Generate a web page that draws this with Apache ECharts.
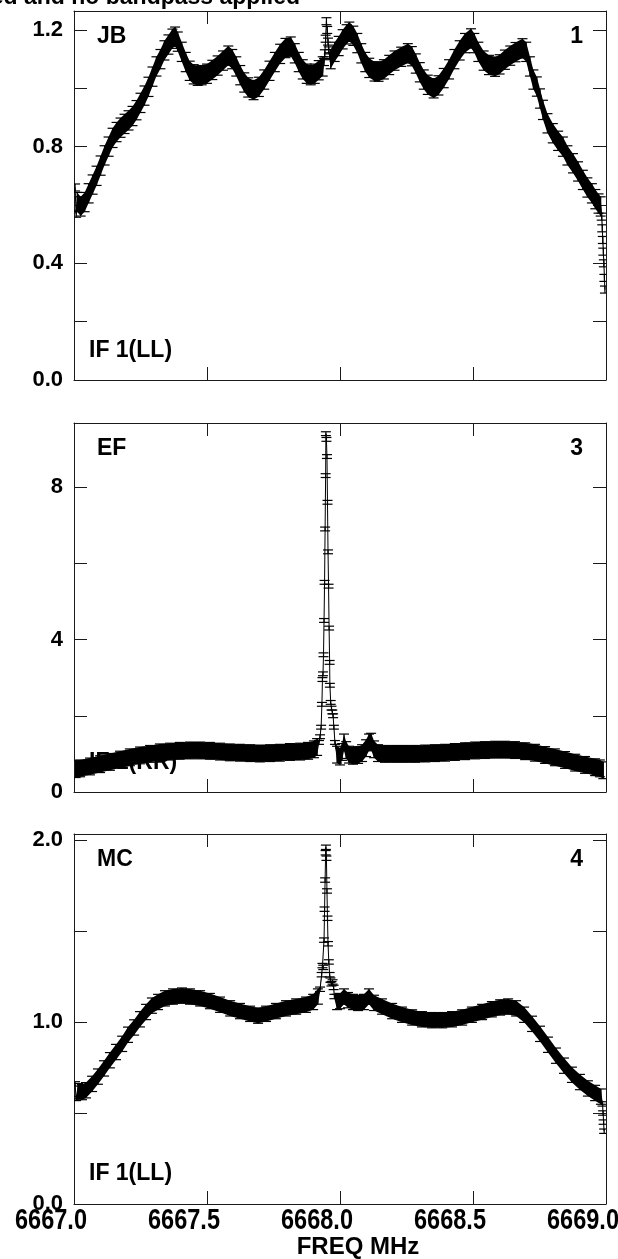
<!DOCTYPE html>
<html>
<head>
<meta charset="utf-8">
<script src="https://cdn.jsdelivr.net/npm/echarts@6/dist/echarts.min.js"></script>
<style>
html,body{margin:0;padding:0;background:#fff;}
#chart{width:618px;height:1259px;}
</style>
</head>
<body>
<div id="chart"></div>
<script>
// ---------- DATA ----------
const freqTicks = [6667.0, 6667.5, 6668.0, 6668.5, 6669.0];

// JB (antenna 1) : broad channels and line/edge channels
const jbBand = [[6667.012,0.61],[6667.025,0.595],[6667.04,0.61],[6667.055,0.64],[6667.07,0.67],[6667.085,0.70],[6667.10,0.735],[6667.115,0.77],[6667.13,0.80],[6667.145,0.83],[6667.16,0.85],[6667.175,0.865],[6667.19,0.878],[6667.205,0.89],[6667.22,0.905],[6667.235,0.925],[6667.25,0.95],[6667.265,0.975],[6667.28,1.005],[6667.295,1.04],[6667.31,1.075],[6667.325,1.10],[6667.34,1.13],[6667.355,1.15],[6667.37,1.17],[6667.38,1.177],[6667.39,1.16],[6667.405,1.125],[6667.42,1.09],[6667.435,1.06],[6667.45,1.048],[6667.465,1.043],[6667.48,1.045],[6667.50,1.05],[6667.52,1.063],[6667.54,1.078],[6667.56,1.095],[6667.58,1.112],[6667.595,1.10],[6667.61,1.075],[6667.625,1.045],[6667.64,1.02],[6667.655,1.003],[6667.675,0.994],[6667.695,1.005],[6667.715,1.03],[6667.735,1.06],[6667.755,1.09],[6667.775,1.118],[6667.795,1.138],[6667.815,1.143],[6667.83,1.12],[6667.845,1.09],[6667.86,1.065],[6667.875,1.05],[6667.89,1.045],[6667.905,1.05],[6667.92,1.062],[6667.935,1.075],[6667.965,1.10],[6667.98,1.125],[6667.995,1.145],[6668.01,1.168],[6668.025,1.185],[6668.035,1.194],[6668.05,1.18],[6668.065,1.155],[6668.08,1.12],[6668.095,1.09],[6668.11,1.07],[6668.13,1.058],[6668.145,1.057],[6668.165,1.065],[6668.185,1.08],[6668.205,1.095],[6668.23,1.108],[6668.255,1.12],[6668.27,1.11],[6668.285,1.085],[6668.30,1.055],[6668.315,1.03],[6668.33,1.012],[6668.352,1.0],[6668.37,1.01],[6668.39,1.035],[6668.41,1.065],[6668.43,1.10],[6668.45,1.13],[6668.47,1.155],[6668.4925,1.171],[6668.505,1.155],[6668.52,1.125],[6668.54,1.095],[6668.56,1.08],[6668.583,1.074],[6668.60,1.082],[6668.62,1.098],[6668.64,1.112],[6668.66,1.124],[6668.686,1.137],[6668.70,1.125],[6668.714,1.075],[6668.727,1.03],[6668.74,1.006],[6668.752,0.965],[6668.763,0.926],[6668.78,0.88],[6668.80,0.846],[6668.82,0.82],[6668.838,0.80],[6668.855,0.77],[6668.876,0.743],[6668.895,0.715],[6668.913,0.686],[6668.93,0.66],[6668.947,0.64],[6668.96,0.62],[6668.972,0.605],[6668.98,0.595]];
const jbLine = [[6667.004,0.66],[6667.008,0.57],[6667.940,1.09],[6667.943,1.12],[6667.946,1.17],[6667.949,1.23],[6667.952,1.20],[6667.955,1.16],[6667.958,1.13],[6667.961,1.11],[6668.984,0.56],[6668.986,0.52],[6668.988,0.48],[6668.990,0.44],[6668.992,0.40],[6668.994,0.35],[6668.996,0.31]];
const jbErrBand = 0.033, jbErrLine = 0.012;

// EF (antenna 3)
const efBand = [[6667.006,0.60],[6667.023,0.62],[6667.060,0.67],[6667.098,0.73],[6667.135,0.79],[6667.173,0.85],[6667.210,0.91],[6667.248,0.96],[6667.286,1.00],[6667.323,1.04],[6667.361,1.06],[6667.398,1.08],[6667.436,1.09],[6667.474,1.09],[6667.511,1.08],[6667.549,1.06],[6667.586,1.04],[6667.624,1.03],[6667.662,1.02],[6667.699,1.01],[6667.737,1.02],[6667.774,1.03],[6667.812,1.05],[6667.850,1.06],[6667.880,1.08],[6667.902,1.12],[6667.914,1.18],[6667.989,0.98],[6668.000,0.93],[6668.008,1.05],[6668.015,1.30],[6668.023,1.10],[6668.034,0.98],[6668.049,0.95],[6668.068,0.97],[6668.083,1.02],[6668.098,1.15],[6668.109,1.30],[6668.117,1.32],[6668.128,1.12],[6668.143,1.02],[6668.169,1.00],[6668.207,1.00],[6668.244,1.00],[6668.282,1.00],[6668.320,1.01],[6668.357,1.02],[6668.395,1.03],[6668.432,1.05],[6668.470,1.07],[6668.508,1.09],[6668.545,1.10],[6668.583,1.11],[6668.620,1.11],[6668.658,1.10],[6668.696,1.07],[6668.733,1.03],[6668.771,0.97],[6668.808,0.91],[6668.846,0.84],[6668.884,0.77],[6668.921,0.71],[6668.959,0.65],[6668.977,0.62],[6668.990,0.57]];
const efLine = [[6667.921,1.30],[6667.925,1.45],[6667.929,1.70],[6667.932,2.30],[6667.934,2.95],[6667.936,3.10],[6667.938,3.60],[6667.940,4.50],[6667.942,5.50],[6667.944,6.90],[6667.946,8.30],[6667.947,9.40],[6667.949,9.25],[6667.951,8.80],[6667.953,7.60],[6667.955,6.30],[6667.957,5.40],[6667.959,4.30],[6667.961,3.40],[6667.962,2.80],[6667.965,2.35],[6667.968,2.20],[6667.971,2.10],[6667.974,2.00],[6667.977,1.70],[6667.981,1.30]];
const efErrBand = 0.22, efErrLine = 0.05;

// MC (antenna 4)
const mcBand = [[6667.015,0.62],[6667.030,0.615],[6667.045,0.625],[6667.068,0.66],[6667.090,0.70],[6667.113,0.745],[6667.135,0.79],[6667.158,0.835],[6667.181,0.88],[6667.203,0.93],[6667.226,0.97],[6667.248,1.015],[6667.271,1.055],[6667.293,1.09],[6667.316,1.11],[6667.342,1.13],[6667.372,1.14],[6667.406,1.145],[6667.436,1.14],[6667.474,1.13],[6667.511,1.115],[6667.549,1.095],[6667.587,1.075],[6667.624,1.06],[6667.662,1.045],[6667.692,1.035],[6667.722,1.045],[6667.759,1.06],[6667.797,1.075],[6667.835,1.085],[6667.872,1.095],[6667.899,1.11],[6667.917,1.14],[6667.989,1.11],[6668.000,1.115],[6668.015,1.14],[6668.030,1.12],[6668.049,1.11],[6668.068,1.105],[6668.090,1.11],[6668.109,1.14],[6668.128,1.105],[6668.158,1.085],[6668.196,1.06],[6668.233,1.04],[6668.271,1.025],[6668.308,1.015],[6668.346,1.01],[6668.384,1.01],[6668.421,1.015],[6668.459,1.025],[6668.496,1.04],[6668.534,1.055],[6668.571,1.07],[6668.602,1.08],[6668.632,1.085],[6668.662,1.075],[6668.692,1.04],[6668.722,0.99],[6668.752,0.935],[6668.782,0.875],[6668.812,0.815],[6668.842,0.76],[6668.872,0.71],[6668.902,0.67],[6668.932,0.635],[6668.959,0.61],[6668.981,0.59]];
const mcLine = [[6667.004,0.66],[6667.008,0.58],[6667.925,1.18],[6667.931,1.26],[6667.934,1.31],[6667.937,1.30],[6667.940,1.45],[6667.942,1.62],[6667.944,1.78],[6667.946,1.93],[6667.947,1.96],[6667.949,1.90],[6667.951,1.72],[6667.953,1.57],[6667.955,1.43],[6667.958,1.33],[6667.961,1.26],[6667.964,1.23],[6667.968,1.21],[6667.972,1.22],[6667.976,1.19],[6667.979,1.14],[6668.987,0.55],[6668.989,0.50],[6668.991,0.45],[6668.993,0.40]];
const mcErrBand = 0.042, mcErrLine = 0.012;

const panels = [
  {name:'JB', ant:'1', ifLabel:'IF 1(LL)', band:jbBand, line:jbLine, eb:jbErrBand, el:jbErrLine, ymax:1.265, step:0.2, labelStep:0.4, dec:1},
  {name:'EF', ant:'3', ifLabel:'IF 1(RR)', band:efBand, line:efLine, eb:efErrBand, el:efErrLine, ymax:9.68, step:2, labelStep:4, dec:0},
  {name:'MC', ant:'4', ifLabel:'IF 1(LL)', band:mcBand, line:mcLine, eb:mcErrBand, el:mcErrLine, ymax:2.033, step:0.5, labelStep:1, dec:1}
];
const titleText = 'No calibration applied and no bandpass applied';

// ---------- LAYOUT ----------
const FONT = "'Liberation Sans', Arial, Helvetica, sans-serif";
const gridBoxes = [
  {left:74, top:11, width:532, height:369},
  {left:74, top:423, width:532, height:369},
  {left:74, top:834, width:532, height:370}
];
const AX = '#1a1a1a';

const chart = echarts.init(document.getElementById('chart'), null, {renderer:'canvas'});

const grids = [], xAxes = [], yAxes = [], series = [], graphics = [];

panels.forEach((p, i) => {
  grids.push(Object.assign({containLabel:false, outerBoundsMode:'none'}, gridBoxes[i]));
  const last = i === panels.length - 1;
  const xBase = {
    type:'value', gridIndex:i, min:freqTicks[0], max:freqTicks[freqTicks.length-1], interval:0.5,
    axisLine:{show:true, onZero:false, lineStyle:{color:AX, width:1}},
    axisTick:{show:true, inside:true, length:13, lineStyle:{color:AX, width:1}},
    splitLine:{show:false}, axisLabel:{show:false}
  };
  xAxes.push(Object.assign({}, xBase, {
    position:'bottom',
    name: last ? 'FREQ MHz' : '', nameLocation:'middle', nameGap:31,
    nameTextStyle:{color:'#000', fontFamily:FONT, fontWeight:'bold', fontSize:24, padding:[0,0,0,36]}
  }));
  xAxes.push(Object.assign({}, xBase, {position:'top'}));
  const yBase = {
    type:'value', gridIndex:i, min:0, max:p.ymax, interval:p.step,
    axisLine:{show:true, onZero:false, lineStyle:{color:AX, width:1}},
    axisTick:{show:true, inside:true, length:13, lineStyle:{color:AX, width:1}},
    splitLine:{show:false}
  };
  yAxes.push(Object.assign({}, yBase, {
    position:'left',
    axisLabel:{show:true, margin:11, color:'#000', fontFamily:FONT, fontWeight:'bold', fontSize:22,
      formatter:v => {
        const r = v / p.labelStep;
        return Math.abs(r - Math.round(r)) < 1e-6 ? v.toFixed(p.dec) : '';
      }}
  }));
  yAxes.push(Object.assign({}, yBase, {position:'right', axisLabel:{show:false}}));

  // merged channel list [freq, value, err]
  const pts = p.band.map(d => [d[0], d[1], p.eb]).concat(p.line.map(d => [d[0], d[1], p.el]))
    .sort((a, b) => a[0] - b[0]);

  // filled band between value-err and value+err
  series.push({
    type:'custom', xAxisIndex:2*i, yAxisIndex:2*i, clip:true, silent:true, z:2,
    data:[[pts[0][0], pts[0][1]]],
    renderItem:(params, api) => {
      const up = pts.map(d => api.coord([d[0], d[1] + d[2]]));
      const lo = pts.map(d => api.coord([d[0], d[1] - d[2]])).reverse();
      return {type:'polygon', shape:{points:up.concat(lo)}, style:{fill:'#000'}};
    }
  });
  // connecting line
  series.push({
    type:'line', xAxisIndex:2*i, yAxisIndex:2*i, clip:true, silent:true, z:3,
    data:pts.map(d => [d[0], d[1]]), showSymbol:false, symbol:'none',
    lineStyle:{color:'#000', width:1}
  });
  // error bars with caps
  series.push({
    type:'custom', xAxisIndex:2*i, yAxisIndex:2*i, clip:true, silent:true, z:4,
    data:pts, encode:{x:0, y:1},
    renderItem:(params, api) => {
      const f = api.value(0), v = api.value(1), e = api.value(2);
      const a = api.coord([f, v + e]), b = api.coord([f, v - e]);
      const w = 5, st = {stroke:'#000', lineWidth:1.2};
      return {type:'group', children:[
        {type:'line', shape:{x1:a[0], y1:a[1], x2:b[0], y2:b[1]}, style:st},
        {type:'line', shape:{x1:a[0]-w, y1:a[1], x2:a[0]+w, y2:a[1]}, style:st},
        {type:'line', shape:{x1:b[0]-w, y1:b[1], x2:b[0]+w, y2:b[1]}, style:st}
      ]};
    }
  });

  const g = gridBoxes[i];
  const tf = 'bold 23px ' + FONT;
  graphics.push({type:'text', x:97, y:g.top + 25.5, z:0,
    style:{text:p.name, font:tf, fill:'#000', textAlign:'left', align:'left', textVerticalAlign:'middle', verticalAlign:'middle'}});
  graphics.push({type:'text', x:583, y:g.top + 25.5, z:0,
    style:{text:p.ant, font:tf, fill:'#000', textAlign:'right', align:'right', textVerticalAlign:'middle', verticalAlign:'middle'}});
  graphics.push({type:'text', x:89, y:g.top + 340, z:0,
    style:{text:p.ifLabel, font:tf, fill:'#000', textAlign:'left', align:'left', textVerticalAlign:'middle', verticalAlign:'middle'}});
});

graphics.push({type:'text', x:300, y:9, z:0,
  style:{text:titleText, font:'bold 23px ' + FONT, fill:'#000', textAlign:'right', align:'right', textVerticalAlign:'bottom', verticalAlign:'bottom'}});

chart.setOption({
  animation:false,
  backgroundColor:'#fff',
  grid:grids, xAxis:xAxes, yAxis:yAxes, series:series,
  graphic:{elements:graphics}
});

// frequency tick labels of the bottom panel: placed with the axis scale,
// drawn tall and narrow like the original plotting font
const lastX = 2 * (panels.length - 1);
const gLast = gridBoxes[gridBoxes.length - 1];
const tickLabels = freqTicks.map(v => {
  const px = chart.convertToPixel({xAxisIndex:lastX}, v);
  return {type:'text', x:px - 23, y:gLast.top + gLast.height + 17, scaleX:0.98, scaleY:1.22, z:1,
    style:{text:v.toFixed(1), font:'bold 24px ' + FONT, fill:'#000',
      textAlign:'center', align:'center', textVerticalAlign:'middle', verticalAlign:'middle'}};
});
chart.setOption({graphic:{elements:graphics.concat(tickLabels)}}, {replaceMerge:['graphic']});
</script>
</body>
</html>
